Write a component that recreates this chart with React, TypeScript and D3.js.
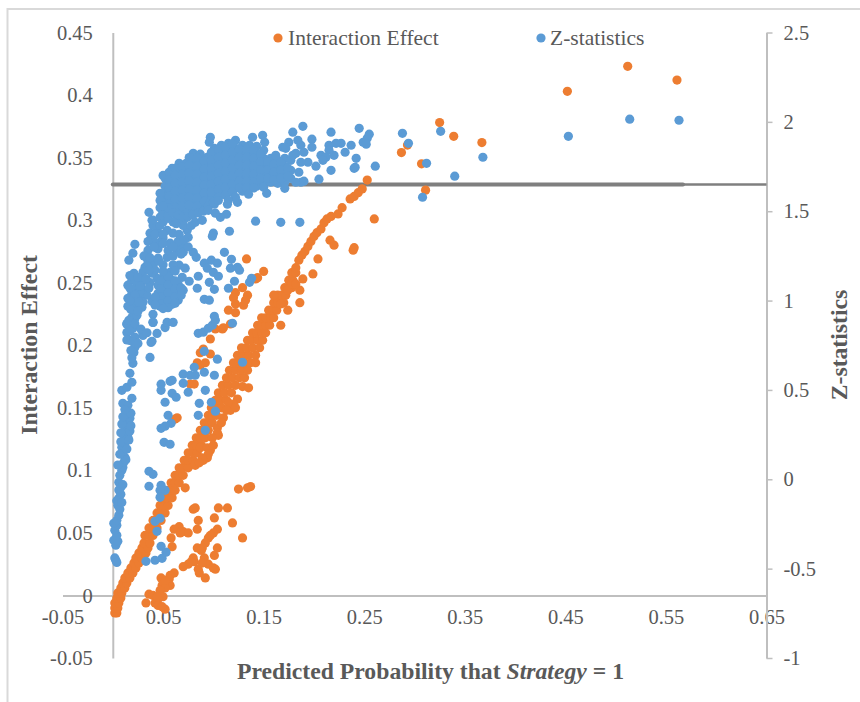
import { useEffect, useRef } from 'react'
import * as d3 from 'd3'

type Pt = [number, number]

const xTicks = [-0.05, 0.05, 0.15, 0.25, 0.35, 0.45, 0.55, 0.65]
const leftTicks = [-0.05, 0, 0.05, 0.1, 0.15, 0.2, 0.25, 0.3, 0.35, 0.4, 0.45]
const rightTicks = [-1, -0.5, 0, 0.5, 1, 1.5, 2, 2.5]

// Critical z value, drawn as a thick grey line
const criticalZ = 1.65
const thresholdThick = [0, 0.567]
const thresholdThin = [0.567, 0.65]

// Interaction effect: foot of the rising band
const interactionFoot: Pt[] = [
  [0.002, -0.014], [0.004, -0.014], [0.002, -0.01], [0.005, -0.01], [0.002, -0.006], [0.006, -0.006], [0.004, -0.002],
  [0.008, -0.002], [0.005, 0.002], [0.009, 0.002], [0.008, 0.006], [0.012, 0.006], [0.01, 0.01], [0.014, 0.01],
  [0.012, 0.014], [0.017, 0.014], [0.015, 0.018], [0.02, 0.018], [0.018, 0.022], [0.023, 0.022], [0.021, 0.026],
  [0.026, 0.026], [0.023, 0.03], [0.029, 0.03], [0.026, 0.034], [0.033, 0.034], [0.029, 0.038], [0.035, 0.038],
  [0.031, 0.042], [0.037, 0.042],
]

// Interaction effect: thick part of the band, read row by row
const interactionBand: Pt[] = [
  [0.032, 0.048], [0.036, 0.048], [0.04, 0.048], [0.036, 0.054], [0.04, 0.054], [0.044, 0.054], [0.04, 0.06], [0.044, 0.06],
  [0.048, 0.06], [0.044, 0.066], [0.048, 0.066], [0.052, 0.066], [0.047, 0.072], [0.051, 0.072], [0.055, 0.072],
  [0.05, 0.078], [0.054, 0.078], [0.059, 0.078], [0.054, 0.084], [0.058, 0.084], [0.062, 0.084], [0.058, 0.09],
  [0.062, 0.09], [0.066, 0.09], [0.062, 0.096], [0.066, 0.096], [0.07, 0.096], [0.066, 0.102], [0.07, 0.102],
  [0.075, 0.102], [0.071, 0.108], [0.075, 0.108], [0.08, 0.108], [0.075, 0.114], [0.08, 0.114], [0.084, 0.114],
  [0.079, 0.12], [0.083, 0.12], [0.088, 0.12], [0.083, 0.126], [0.087, 0.126], [0.092, 0.126], [0.087, 0.132],
  [0.091, 0.132], [0.095, 0.132], [0.091, 0.138], [0.095, 0.138], [0.099, 0.138], [0.095, 0.144], [0.099, 0.144],
  [0.103, 0.144], [0.098, 0.15], [0.103, 0.15], [0.108, 0.15], [0.102, 0.156], [0.107, 0.156], [0.113, 0.156],
  [0.105, 0.162], [0.111, 0.162], [0.118, 0.162], [0.109, 0.168], [0.115, 0.168], [0.122, 0.168], [0.113, 0.174],
  [0.119, 0.174], [0.126, 0.174], [0.131, 0.174], [0.116, 0.18], [0.122, 0.18], [0.128, 0.18], [0.134, 0.18],
  [0.12, 0.186], [0.125, 0.186], [0.131, 0.186], [0.137, 0.186], [0.124, 0.192], [0.129, 0.192], [0.135, 0.192],
  [0.142, 0.192], [0.128, 0.198], [0.133, 0.198], [0.139, 0.198], [0.146, 0.198], [0.134, 0.204], [0.138, 0.204],
  [0.144, 0.204], [0.149, 0.204], [0.139, 0.21], [0.143, 0.21], [0.148, 0.21], [0.152, 0.21], [0.144, 0.216],
  [0.148, 0.216], [0.152, 0.216], [0.156, 0.216], [0.148, 0.222], [0.152, 0.222], [0.157, 0.222], [0.16, 0.222],
  [0.155, 0.228], [0.159, 0.228], [0.163, 0.228], [0.16, 0.234], [0.164, 0.234], [0.168, 0.234], [0.164, 0.24],
  [0.168, 0.24], [0.172, 0.24], [0.171, 0.246], [0.175, 0.246], [0.178, 0.246], [0.175, 0.252], [0.179, 0.252],
  [0.178, 0.258], [0.182, 0.258],
]

// Interaction effect: thin top of the band
const interactionTop: Pt[] = [
  [0.185, 0.268], [0.188, 0.272], [0.191, 0.275], [0.194, 0.279], [0.197, 0.283], [0.2, 0.287], [0.203, 0.29],
  [0.207, 0.293], [0.21, 0.298], [0.213, 0.301], [0.217, 0.303], [0.224, 0.305], [0.228, 0.31], [0.236, 0.317],
  [0.24, 0.319], [0.244, 0.322], [0.248, 0.325], [0.253, 0.332], [0.182, 0.262],
]

// Interaction effect: points scattered right of the band, plus the far right tail
const interactionRight: Pt[] = [
  [0.287, 0.354], [0.293, 0.36], [0.307, 0.345], [0.311, 0.324], [0.325, 0.378], [0.339, 0.367], [0.367, 0.362],
  [0.452, 0.403], [0.512, 0.423], [0.561, 0.412], [0.26, 0.301], [0.239, 0.276], [0.24, 0.278], [0.216, 0.284],
  [0.22, 0.28], [0.204, 0.269], [0.199, 0.257], [0.189, 0.253], [0.186, 0.244], [0.18, 0.249], [0.186, 0.234],
  [0.174, 0.228], [0.167, 0.216], [0.174, 0.244], [0.178, 0.249], [0.182, 0.249], [0.17, 0.234], [0.167, 0.233],
  [0.16, 0.24], [0.129, 0.167], [0.135, 0.166], [0.142, 0.186], [0.124, 0.157], [0.12, 0.153], [0.117, 0.148],
  [0.115, 0.154], [0.122, 0.15], [0.11, 0.142], [0.104, 0.134], [0.105, 0.128], [0.104, 0.13], [0.099, 0.126],
  [0.094, 0.11], [0.087, 0.118], [0.097, 0.116], [0.09, 0.108], [0.082, 0.104], [0.072, 0.086], [0.094, 0.118],
  [0.095, 0.113], [0.089, 0.11], [0.082, 0.105], [0.113, 0.148], [0.108, 0.138], [0.1, 0.12], [0.086, 0.106],
]

// Interaction effect: small group left of the band around x = 0.1
const interactionUpperLeft: Pt[] = [
  [0.133, 0.269], [0.15, 0.259], [0.142, 0.253], [0.144, 0.254], [0.129, 0.246], [0.122, 0.242], [0.134, 0.24],
  [0.12, 0.238], [0.132, 0.236], [0.122, 0.233], [0.13, 0.232], [0.115, 0.228], [0.122, 0.226], [0.117, 0.217],
  [0.109, 0.213], [0.102, 0.213], [0.097, 0.205], [0.087, 0.194], [0.09, 0.197], [0.097, 0.193], [0.084, 0.186],
  [0.087, 0.184], [0.092, 0.186], [0.077, 0.169], [0.081, 0.169], [0.064, 0.142], [0.062, 0.141], [0.11, 0.214],
]

// Interaction effect: low cluster under the band
const interactionLower: Pt[] = [
  [0.137, 0.087], [0.134, 0.086], [0.125, 0.085], [0.105, 0.07], [0.114, 0.07], [0.082, 0.07], [0.08, 0.069],
  [0.101, 0.062], [0.119, 0.058], [0.085, 0.06], [0.129, 0.046], [0.066, 0.055], [0.061, 0.053], [0.07, 0.051],
  [0.075, 0.05], [0.067, 0.05], [0.084, 0.053], [0.058, 0.046], [0.104, 0.053], [0.1, 0.05], [0.095, 0.046],
  [0.092, 0.042], [0.084, 0.038], [0.089, 0.038], [0.104, 0.038], [0.059, 0.039], [0.101, 0.032], [0.091, 0.03],
  [0.081, 0.027], [0.075, 0.025], [0.07, 0.023], [0.095, 0.025], [0.1, 0.022], [0.102, 0.021], [0.085, 0.021],
  [0.086, 0.018], [0.092, 0.014], [0.061, 0.018], [0.057, 0.016], [0.048, 0.014], [0.056, 0.013], [0.049, 0.008],
  [0.057, 0.008], [0.052, 0.006], [0.036, 0.001], [0.04, 0], [0.05, -0.001], [0.045, -0.003], [0.033, -0.006],
  [0.042, -0.006], [0.045, -0.008], [0.052, -0.011], [0.049, -0.009], [0.08, 0.03], [0.088, 0.036], [0.097, 0.048],
  [0.052, 0.012], [0.047, 0.004], [0.044, -0.001], [0.078, 0.027], [0.089, 0.026],
]

// Z statistics: the narrow column rising off the y axis
const zColumn: Pt[] = [
  [0.003, -0.453], [0.002, -0.44], [0.004, -0.465], [0.003, -0.369], [0.001, -0.341], [0.005, -0.347], [0.004, -0.313],
  [0.002, -0.285], [0.004, -0.257], [0.001, -0.246], [0.004, -0.229], [0.006, -0.201], [0.007, -0.168], [0.005, -0.145],
  [0.006, -0.106], [0.008, -0.084], [0.008, -0.045], [0.006, -0.017], [0.007, 0.022], [0.009, 0.05], [0.01, 0.067],
  [0.011, 0.095], [0.012, 0.123], [0.01, 0.151], [0.009, 0.179], [0.012, 0.201], [0.015, 0.235], [0.011, 0.246],
  [0.014, 0.269], [0.012, 0.291], [0.015, 0.308], [0.013, 0.33], [0.017, 0.341], [0.012, 0.358], [0.015, 0.375],
  [0.01, 0.425], [0.015, 0.414], [0.019, 0.453], [0.009, 0.498], [0.014, 0.515], [0.019, 0.543], [0.017, 0.593],
  [0.02, 0.649], [0.021, 0.71], [0.019, 0.68], [0.014, 0.822], [0.017, 0.777], [0.014, 0.872], [0.022, 0.9],
  [0.03, 0.805], [0.037, 0.682], [0.038, 0.766], [0.044, 0.816], [0.04, 0.878], [0.052, 0.849], [0.054, 0.878],
  [0.06, 0.878], [0.005, 0.08], [0.013, 0.11], [0.007, 0.14], [0.014, 0.17], [0.008, 0.21], [0.016, 0.22],
  [0.008, 0.26], [0.017, 0.27], [0.009, 0.31], [0.018, 0.3], [0.01, 0.35], [0.018, 0.37], [0.012, 0.39],
  [0.006, -0.06], [0.01, -0.03], [0.004, -0.12], [0.009, -0.13],
]

// Z statistics: loose points between the column and the band
const zScatter: Pt[] = [
  [0.091, 0.716], [0.104, 0.672], [0.081, 0.627], [0.091, 0.599], [0.101, 0.582], [0.07, 0.588], [0.077, 0.582],
  [0.082, 0.582], [0.07, 0.537], [0.059, 0.554], [0.057, 0.548], [0.048, 0.532], [0.048, 0.498], [0.059, 0.481],
  [0.063, 0.459], [0.075, 0.487], [0.092, 0.498], [0.129, 0.655], [0.098, 0.431], [0.102, 0.381], [0.086, 0.425],
  [0.052, 0.431], [0.085, 0.358], [0.055, 0.358], [0.058, 0.313], [0.052, 0.297], [0.048, 0.285], [0.092, 0.274],
  [0.036, 0.045], [0.04, 0.028], [0.036, -0.039], [0.048, -0.034], [0.052, -0.062], [0.047, -0.062], [0.047, -0.101],
  [0.042, -0.235], [0.047, -0.218], [0.044, -0.291], [0.048, -0.375], [0.053, -0.408], [0.049, -0.442], [0.042, -0.453],
  [0.033, -0.459], [0.051, 0.207], [0.057, 0.196], [0.085, 0.817], [0.09, 0.823], [0.095, 0.845], [0.099, 0.862],
  [0.102, 0.89], [0.101, 0.912], [0.119, 0.873],
]

// Z statistics: groups at z = 1 to 1.5
const zMiddle: Pt[] = [
  [0.036, 1.494], [0.039, 1.449], [0.052, 1.505], [0.047, 1.466], [0.057, 1.489], [0.064, 1.466], [0.074, 1.466],
  [0.082, 1.438], [0.089, 1.449], [0.074, 1.393], [0.075, 1.354], [0.037, 1.377], [0.037, 1.337], [0.044, 1.393],
  [0.054, 1.393], [0.06, 1.377], [0.047, 1.326], [0.057, 1.321], [0.069, 1.298], [0.064, 1.281], [0.054, 1.242],
  [0.035, 1.281], [0.034, 1.237], [0.032, 1.186], [0.044, 1.293], [0.08, 1.27], [0.083, 1.242], [0.022, 1.315],
  [0.02, 1.265], [0.016, 1.226], [0.111, 1.27], [0.118, 1.231], [0.098, 1.226], [0.091, 1.209], [0.104, 1.209],
  [0.094, 1.181], [0.117, 1.181], [0.124, 1.186], [0.126, 1.17], [0.085, 1.136], [0.1, 1.158], [0.105, 1.136],
  [0.138, 1.125], [0.136, 1.102], [0.096, 1.102], [0.121, 1.108], [0.084, 1.069], [0.101, 1.063], [0.115, 1.069],
  [0.091, 1.007], [0.096, 1.002], [0.066, 1.198], [0.072, 1.181], [0.069, 1.13], [0.076, 1.108], [0.07, 1.058],
  [0.065, 1.002], [0.057, 1.158], [0.05, 1.13], [0.044, 1.125], [0.039, 1.153], [0.03, 1.13], [0.045, 1.086],
  [0.045, 1.041], [0.045, 0.996], [0.052, 1.102], [0.052, 1.058], [0.052, 1.013], [0.052, 0.968], [0.059, 1.113],
  [0.059, 1.069], [0.059, 1.024], [0.059, 0.979], [0.065, 1.091], [0.065, 1.047], [0.047, 0.968], [0.039, 0.996],
  [0.021, 1.153], [0.019, 1.114], [0.029, 1.102], [0.032, 1.058], [0.019, 1.041], [0.029, 1.013], [0.015, 0.968],
  [0.022, 0.974], [0.029, 0.963], [0.019, 0.906], [0.024, 0.918], [0.014, 0.867], [0.02, 0.845], [0.022, 0.795],
  [0.022, 0.739], [0.03, 0.817], [0.039, 0.772], [0.04, 0.923], [0.04, 0.878], [0.024, 1.058], [0.015, 1.013],
  [0.024, 1.086], [0.015, 1.086], [0.021, 1.002], [0.04, 1.198], [0.045, 1.237],
]

// Fill inside the solid parts of those groups
const zMiddleFill: Pt[] = [
  [0.04, 1.42], [0.05, 1.44], [0.06, 1.44], [0.07, 1.42], [0.031, 1.25], [0.04, 1.34], [0.05, 1.35], [0.045, 1.29],
  [0.055, 1.28], [0.065, 1.33], [0.07, 1.27], [0.075, 1.3], [0.035, 1.21], [0.042, 1.22], [0.05, 1.2], [0.06, 1.2],
  [0.03, 1.16], [0.037, 1.1], [0.034, 1.03], [0.027, 1.05], [0.03, 0.99], [0.048, 1.11], [0.048, 1.065], [0.048, 1.02],
  [0.048, 0.98], [0.055, 1.135], [0.055, 1.09], [0.055, 1.045], [0.055, 1], [0.055, 0.96], [0.062, 1.11], [0.062, 1.065],
  [0.062, 1.02], [0.062, 0.985], [0.068, 1.07], [0.068, 1.03], [0.042, 1.02], [0.042, 0.975], [0.05, 0.955],
  [0.017, 1.14], [0.025, 1.13], [0.017, 1.07], [0.022, 1.03], [0.027, 1.08], [0.017, 1], [0.026, 0.99], [0.018, 0.95],
  [0.025, 0.94], [0.016, 0.89], [0.022, 0.87], [0.017, 0.83], [0.014, 0.78], [0.02, 0.77], [0.018, 0.72], [0.025, 0.76],
  [0.028, 0.84], [0.034, 0.82], [0.04, 1.45], [0.047, 1.42], [0.055, 1.46], [0.063, 1.43], [0.07, 1.45], [0.078, 1.42],
  [0.042, 1.37], [0.05, 1.37], [0.066, 1.37], [0.071, 1.34], [0.035, 1.33], [0.041, 1.3], [0.05, 1.32], [0.06, 1.3],
  [0.068, 1.26], [0.06, 1.25], [0.037, 1.24], [0.042, 1.17], [0.036, 1.17], [0.05, 1.165], [0.062, 1.165], [0.046, 1.22],
  [0.033, 1.12], [0.036, 1.07],
]

// Z statistics: dense cluster above the critical line
const zCluster: Pt[] = [
  [0.052, 1.684], [0.052, 1.64], [0.052, 1.595], [0.052, 1.55],
  [0.059, 1.74], [0.059, 1.695], [0.059, 1.651], [0.059, 1.606], [0.059, 1.561], [0.059, 1.517],
  [0.066, 1.768], [0.066, 1.723], [0.066, 1.679], [0.066, 1.634], [0.066, 1.589], [0.066, 1.545], [0.066, 1.5],
  [0.073, 1.768], [0.073, 1.729], [0.073, 1.684], [0.073, 1.64], [0.073, 1.595], [0.073, 1.55], [0.073, 1.505],
  [0.08, 1.824], [0.08, 1.779], [0.08, 1.735], [0.08, 1.69], [0.08, 1.645], [0.08, 1.6], [0.08, 1.556], [0.08, 1.511],
  [0.087, 1.819], [0.087, 1.774], [0.087, 1.729], [0.087, 1.684], [0.087, 1.64], [0.087, 1.595], [0.087, 1.55], [0.087, 1.517],
  [0.094, 1.802], [0.094, 1.757], [0.094, 1.712], [0.094, 1.668], [0.094, 1.623], [0.094, 1.578], [0.094, 1.533],
  [0.101, 1.852], [0.101, 1.807], [0.101, 1.763], [0.101, 1.718], [0.101, 1.673], [0.101, 1.628], [0.101, 1.584], [0.101, 1.539],
  [0.108, 1.869], [0.108, 1.824], [0.108, 1.779], [0.108, 1.735], [0.108, 1.69], [0.108, 1.645], [0.108, 1.6],
  [0.115, 1.88], [0.115, 1.835], [0.115, 1.791], [0.115, 1.746], [0.115, 1.701], [0.115, 1.656], [0.115, 1.612],
  [0.122, 1.897], [0.122, 1.852], [0.122, 1.807], [0.122, 1.763], [0.122, 1.718], [0.122, 1.673], [0.122, 1.628],
  [0.129, 1.869], [0.129, 1.824], [0.129, 1.779], [0.129, 1.735], [0.129, 1.69], [0.129, 1.645], [0.129, 1.612],
  [0.136, 1.869], [0.136, 1.824], [0.136, 1.779], [0.136, 1.735], [0.136, 1.69], [0.136, 1.645],
  [0.143, 1.863], [0.143, 1.819], [0.143, 1.774], [0.143, 1.729], [0.143, 1.684], [0.143, 1.64],
  [0.15, 1.841], [0.15, 1.796], [0.15, 1.751], [0.15, 1.707], [0.15, 1.662], [0.15, 1.634],
  [0.157, 1.796], [0.157, 1.751], [0.157, 1.707], [0.157, 1.662],
  [0.164, 1.785], [0.164, 1.74], [0.164, 1.695], [0.164, 1.656],
  [0.171, 1.796], [0.171, 1.751], [0.171, 1.707], [0.171, 1.662],
  [0.177, 1.785], [0.177, 1.729], [0.177, 1.684],
]

// Second pass through the cluster, in the gaps of the first
const zClusterFill: Pt[] = [
  [0.047, 1.6], [0.047, 1.56], [0.047, 1.52], [0.05, 1.7], [0.049, 1.48], [0.055, 1.475], [0.056, 1.718], [0.056, 1.673],
  [0.056, 1.628], [0.056, 1.584], [0.056, 1.539], [0.062, 1.74], [0.062, 1.701], [0.062, 1.656], [0.062, 1.612],
  [0.062, 1.567], [0.062, 1.522], [0.069, 1.75], [0.069, 1.706], [0.069, 1.662], [0.069, 1.617], [0.069, 1.572],
  [0.069, 1.528], [0.076, 1.8], [0.076, 1.757], [0.076, 1.712], [0.076, 1.668], [0.076, 1.622], [0.076, 1.578],
  [0.076, 1.533], [0.084, 1.797], [0.084, 1.752], [0.084, 1.707], [0.084, 1.662], [0.084, 1.618], [0.084, 1.573],
  [0.084, 1.528], [0.091, 1.78], [0.091, 1.735], [0.091, 1.69], [0.091, 1.645], [0.091, 1.6], [0.091, 1.555],
  [0.098, 1.83], [0.098, 1.785], [0.098, 1.74], [0.098, 1.695], [0.098, 1.65], [0.098, 1.606], [0.098, 1.56],
  [0.105, 1.846], [0.105, 1.802], [0.105, 1.757], [0.105, 1.712], [0.105, 1.668], [0.105, 1.622], [0.105, 1.578],
  [0.112, 1.858], [0.112, 1.813], [0.112, 1.768], [0.112, 1.724], [0.112, 1.678], [0.112, 1.634], [0.112, 1.59],
  [0.119, 1.875], [0.119, 1.83], [0.119, 1.785], [0.119, 1.74], [0.119, 1.696], [0.119, 1.65], [0.119, 1.606],
  [0.126, 1.847], [0.126, 1.802], [0.126, 1.757], [0.126, 1.712], [0.126, 1.668], [0.126, 1.63],
  [0.133, 1.847], [0.133, 1.802], [0.133, 1.757], [0.133, 1.712], [0.133, 1.668], [0.133, 1.63],
  [0.14, 1.84], [0.14, 1.796], [0.14, 1.752], [0.14, 1.707], [0.14, 1.662], [0.14, 1.63],
  [0.147, 1.818], [0.147, 1.774], [0.147, 1.73], [0.147, 1.684], [0.154, 1.773], [0.154, 1.73], [0.154, 1.684],
  [0.16, 1.762], [0.16, 1.718], [0.16, 1.674], [0.167, 1.773], [0.167, 1.729], [0.167, 1.684], [0.174, 1.74],
  [0.174, 1.695], [0.055, 1.52], [0.06, 1.49], [0.065, 1.48], [0.07, 1.47], [0.075, 1.47], [0.08, 1.48], [0.085, 1.49],
  [0.09, 1.5], [0.095, 1.53], [0.1, 1.55], [0.105, 1.56], [0.05, 1.53],
]

// Z statistics: outer edge of the cluster and the far right tail
const zUpper: Pt[] = [
  [0.097, 1.914], [0.096, 1.886], [0.139, 1.914], [0.149, 1.925], [0.151, 1.886], [0.189, 1.975], [0.179, 1.942],
  [0.217, 1.942], [0.245, 1.964], [0.255, 1.931], [0.253, 1.908], [0.249, 1.886], [0.252, 1.875], [0.237, 1.869],
  [0.227, 1.88], [0.222, 1.88], [0.215, 1.869], [0.231, 1.83], [0.242, 1.796], [0.261, 1.752], [0.24, 1.74],
  [0.241, 1.746], [0.217, 1.729], [0.205, 1.679], [0.288, 1.936], [0.294, 1.88], [0.312, 1.768], [0.308, 1.578],
  [0.326, 1.947], [0.34, 1.696], [0.368, 1.802], [0.453, 1.919], [0.514, 2.015], [0.563, 2.009], [0.198, 1.903],
  [0.198, 1.858], [0.184, 1.897], [0.175, 1.886], [0.169, 1.858], [0.187, 1.869], [0.19, 1.83], [0.182, 1.824],
  [0.162, 1.813], [0.172, 1.852], [0.179, 1.813], [0.207, 1.813], [0.22, 1.813], [0.215, 1.841], [0.212, 1.802],
  [0.209, 1.785], [0.202, 1.752], [0.194, 1.774], [0.187, 1.774], [0.185, 1.718], [0.187, 1.662], [0.182, 1.662],
  [0.19, 1.668], [0.171, 1.628], [0.153, 1.6], [0.135, 1.595], [0.124, 1.55], [0.122, 1.578], [0.115, 1.561],
  [0.114, 1.539], [0.142, 1.444], [0.167, 1.438], [0.186, 1.438], [0.116, 1.388], [0.1, 1.377], [0.099, 1.36],
  [0.113, 1.483], [0.107, 1.466], [0.102, 1.489], [0.095, 1.505],
]

const interactionPoints = [
  ...interactionFoot, ...interactionBand, ...interactionTop,
  ...interactionRight, ...interactionUpperLeft, ...interactionLower,
]
const zPoints = [...zColumn, ...zScatter, ...zMiddle, ...zMiddleFill, ...zCluster, ...zClusterFill, ...zUpper]

const ORANGE = '#ed7d31'
const BLUE = '#5b9bd5'
const AXIS = '#bfbfbf'
const TEXT = '#595959'
const FONT = '"Liberation Serif", serif'
const DOT_R = 4.6

function App() {
  const svgRef = useRef<SVGSVGElement>(null)

  useEffect(() => {
    const svg = d3.select(svgRef.current)
    svg.selectAll('*').remove()
    svg.attr('font-family', FONT)

    const x = d3.scaleLinear().domain([-0.05, 0.65]).range([62.5, 766.5])
    const yLeft = d3.scaleLinear().domain([-0.05, 0.45]).range([658, 32.5])
    const yRight = d3.scaleLinear().domain([-1, 2.5]).range([658, 32.5])

    // Outer frame, only the top and left edges are in the picture
    svg.append('path')
      .attr('d', 'M7.5,702V9H860')
      .attr('fill', 'none')
      .attr('stroke', '#d9d9d9')
      .attr('stroke-width', 2)

    const styleAxis = (g: any, size: number) => {
      g.select('.domain').attr('stroke', AXIS).attr('stroke-width', 2)
      g.selectAll('.tick line').attr('stroke', AXIS).attr('stroke-width', 1.5)
      g.selectAll('.tick text')
        .attr('fill', TEXT)
        .attr('font-size', size)
        .attr('font-family', FONT)
    }

    // Bottom axis sits on the zero line and has no tick marks
    const xAxis = svg.append('g')
      .attr('transform', `translate(0,${yLeft(0)})`)
      .call(d3.axisBottom(x).tickValues(xTicks).tickSize(0).tickSizeOuter(0).tickPadding(14)
        .tickFormat((d: any) => d.toFixed(2)))
    styleAxis(xAxis, 20.5)

    const leftAxis = svg.append('g')
      .attr('transform', `translate(${x(0)},0)`)
      .call(d3.axisLeft(yLeft).tickValues(leftTicks).tickSize(0).tickSizeOuter(0).tickPadding(0)
        .tickFormat((d: any) => String(d)))
    styleAxis(leftAxis, 20.5)
    leftAxis.selectAll('.tick text').attr('x', -20)

    const rightAxis = svg.append('g')
      .attr('transform', `translate(${x(0.65)},0)`)
      .call(d3.axisRight(yRight).tickValues(rightTicks).tickSize(6).tickSizeOuter(0).tickPadding(11)
        .tickFormat((d: any) => String(d)))
    styleAxis(rightAxis, 20.5)

    // Critical value line
    const zLine = d3.line<number>().x(d => x(d)).y(() => yRight(criticalZ))
    svg.append('path')
      .attr('d', zLine(thresholdThin))
      .attr('stroke', '#7f7f7f')
      .attr('stroke-width', 2.5)
      .attr('fill', 'none')
    svg.append('path')
      .attr('d', zLine(thresholdThick))
      .attr('stroke', '#7f7f7f')
      .attr('stroke-width', 4)
      .attr('stroke-linecap', 'round')
      .attr('fill', 'none')

    svg.append('g').selectAll('circle')
      .data(interactionPoints)
      .join('circle')
      .attr('cx', d => x(d[0]))
      .attr('cy', d => yLeft(d[1]))
      .attr('r', DOT_R)
      .attr('fill', ORANGE)

    svg.append('g').selectAll('circle')
      .data(zPoints)
      .join('circle')
      .attr('cx', d => x(d[0]))
      .attr('cy', d => yRight(d[1]))
      .attr('r', DOT_R)
      .attr('fill', BLUE)

    // Legend
    const legend = [
      { label: 'Interaction Effect', color: ORANGE, dot: 278, text: 288 },
      { label: 'Z-statistics', color: BLUE, dot: 541, text: 550 },
    ]
    legend.forEach(item => {
      svg.append('circle')
        .attr('cx', item.dot)
        .attr('cy', 38)
        .attr('r', DOT_R)
        .attr('fill', item.color)
      svg.append('text')
        .attr('x', item.text)
        .attr('y', 44.5)
        .attr('fill', TEXT)
        .attr('font-size', 21.5)
        .text(item.label)
    })

    // Axis titles
    const xTitle = svg.append('text')
      .attr('x', 430.5)
      .attr('y', 679)
      .attr('text-anchor', 'middle')
      .attr('fill', TEXT)
      .attr('font-size', 23.7)
      .attr('font-weight', 'bold')
    xTitle.append('tspan').text('Predicted Probability that ')
    xTitle.append('tspan').attr('font-style', 'italic').text('Strategy')
    xTitle.append('tspan').text(' = 1')

    svg.append('text')
      .attr('transform', 'translate(37,345) rotate(-90)')
      .attr('text-anchor', 'middle')
      .attr('fill', TEXT)
      .attr('font-size', 23.7)
      .attr('font-weight', 'bold')
      .text('Interaction Effect')

    svg.append('text')
      .attr('transform', 'translate(847,345) rotate(-90)')
      .attr('text-anchor', 'middle')
      .attr('fill', TEXT)
      .attr('font-size', 23.7)
      .attr('font-weight', 'bold')
      .text('Z-statistics')
  }, [])

  return <svg ref={svgRef} width={860} height={702} style={{ position: 'absolute', left: 0, top: 0 }} />
}

export default App
